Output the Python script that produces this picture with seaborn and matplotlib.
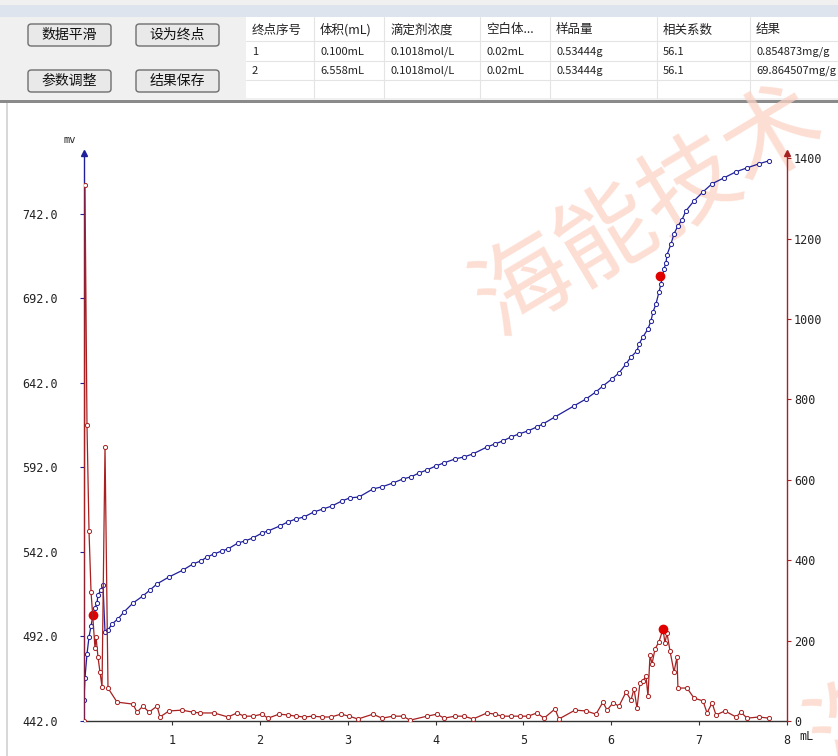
import pandas as pd
import matplotlib.pyplot as plt
import seaborn as sns
from matplotlib.patches import Rectangle, FancyBboxPatch

# ---- dados ----
vol_mv = [0.0, 0.011, 0.034, 0.057, 0.080, 0.102, 0.125, 0.148, 0.159, 0.193, 0.216, 0.239,
          0.273, 0.319, 0.387, 0.455, 0.558, 0.671, 0.751, 0.831, 0.967, 1.127, 1.240, 1.331,
          1.400, 1.479, 1.570, 1.639, 1.752, 1.832, 1.923, 2.026, 2.094, 2.230, 2.321, 2.413,
          2.504, 2.617, 2.720, 2.822, 2.936, 3.027, 3.129, 3.289, 3.391, 3.516, 3.630, 3.721,
          3.812, 3.903, 4.006, 4.097, 4.222, 4.324, 4.427, 4.586, 4.677, 4.768, 4.859, 4.950,
          5.053, 5.155, 5.223, 5.360, 5.576, 5.713, 5.826, 5.906, 6.009, 6.088, 6.168, 6.225,
          6.293, 6.316, 6.361, 6.418, 6.452, 6.475, 6.509, 6.543, 6.566, 6.600, 6.623, 6.634,
          6.680, 6.714, 6.759, 6.805, 6.850, 6.942, 7.044, 7.147, 7.283, 7.420, 7.545, 7.681,
          7.795]
potencial = [454.4, 467.4, 481.6, 491.7, 498.2, 504.7, 508.9, 511.8, 516.6, 519.5, 522.5, 494.7,
             495.8, 499.4, 502.4, 506.5, 511.8, 516.0, 519.5, 523.1, 527.2, 531.3, 534.9, 536.7,
             539.0, 540.8, 542.6, 543.8, 547.3, 548.5, 550.3, 553.2, 554.4, 557.4, 559.8, 561.5,
             562.7, 565.7, 567.4, 569.2, 572.2, 574.0, 574.5, 579.3, 580.5, 582.8, 585.2, 586.4,
             588.7, 590.5, 592.9, 594.7, 597.0, 598.2, 600.0, 604.1, 605.9, 607.7, 610.0, 611.8,
             613.6, 616.0, 617.7, 621.9, 628.4, 632.5, 636.7, 640.2, 644.4, 647.9, 653.2, 657.4,
             660.9, 665.1, 669.2, 674.0, 678.7, 684.0, 688.7, 695.8, 700.6, 709.5, 713.0, 717.7,
             724.2, 730.2, 734.9, 738.5, 743.8, 749.7, 755.0, 759.8, 763.3, 766.9, 769.2, 771.6,
             773.4]

vol_der = [0.0, 0.011, 0.034, 0.057, 0.080, 0.125, 0.137, 0.159, 0.182, 0.205, 0.239, 0.273,
           0.376, 0.558, 0.603, 0.671, 0.740, 0.831, 0.865, 0.967, 1.115, 1.240, 1.320, 1.479,
           1.639, 1.741, 1.821, 1.923, 2.026, 2.094, 2.219, 2.321, 2.413, 2.504, 2.606, 2.708,
           2.811, 2.925, 3.016, 3.118, 3.289, 3.391, 3.516, 3.630, 3.710, 3.903, 4.017, 4.097,
           4.222, 4.324, 4.427, 4.586, 4.677, 4.757, 4.859, 4.962, 5.053, 5.155, 5.235, 5.360,
           5.405, 5.587, 5.713, 5.826, 5.906, 5.952, 6.020, 6.088, 6.168, 6.225, 6.259, 6.293,
           6.327, 6.361, 6.395, 6.418, 6.441, 6.464, 6.498, 6.543, 6.589, 6.611, 6.634, 6.669,
           6.714, 6.748, 6.759, 6.862, 6.942, 7.044, 7.090, 7.147, 7.192, 7.294, 7.420, 7.476,
           7.545, 7.681, 7.795]
derivada = [0, 1333, 736, 473, 321, 182, 209, 159, 122, 85, 682, 82,
            47, 42, 22, 37, 22, 37, 10, 25, 27, 22, 20, 20,
            10, 20, 12, 12, 17, 7, 17, 15, 12, 10, 12, 10,
            10, 17, 12, 5, 17, 7, 12, 12, 2, 12, 17, 7,
            12, 12, 5, 20, 17, 12, 12, 12, 12, 20, 7, 30,
            5, 27, 25, 17, 47, 27, 45, 37, 72, 52, 80, 32,
            95, 100, 112, 62, 164, 142, 179, 197, 229, 194, 219, 174,
            122, 159, 82, 82, 57, 50, 20, 45, 15, 25, 10, 22,
            7, 10, 7]

# pontos finais (volume, mV, derivada)
ep_vol = [0.100, 6.558]
ep_mv = [505.0, 705.0]
ep_der_vol = [6.589]
ep_der = [229]

cabecalho = ['终点序号', '体积(mL)', '滴定剂浓度', '空白体...', '样品量', '相关系数', '结果']
linha1 = ['1', '0.100mL', '0.1018mol/L', '0.02mL', '0.53444g', '56.1', '0.854873mg/g']
linha2 = ['2', '6.558mL', '0.1018mol/L', '0.02mL', '0.53444g', '56.1', '69.864507mg/g']
botoes = ['数据平滑', '设为终点', '参数调整', '结果保存']

W, H = 838, 756
AZUL = '#1f1f9c'
VERMELHO = '#a82020'


def px(x, y):
    return x / W, 1 - y / H


sns.set_style('white')
plt.rcParams['font.family'] = ['Noto Sans CJK SC', 'DejaVu Sans']

fig = plt.figure(figsize=(W / 100, H / 100), dpi=100)
fig.patch.set_facecolor('white')

# ---- painel superior ----
fig.patches.append(Rectangle(px(0, 100), 1, 100 / H, transform=fig.transFigure,
                             facecolor='#f0f0f0', edgecolor='none', zorder=-5))
fig.patches.append(Rectangle(px(0, 17), 1, 12 / H, transform=fig.transFigure,
                             facecolor='#dde4ee', edgecolor='none', zorder=-4))
fig.patches.append(Rectangle(px(0, 103), 1, 3 / H, transform=fig.transFigure,
                             facecolor='#8a8a8a', edgecolor='none', zorder=-4))
fig.patches.append(Rectangle(px(6, 756), 2 / W, 653 / H, transform=fig.transFigure,
                             facecolor='#d8d8d8', edgecolor='none', zorder=-4))
fig.patches.append(Rectangle(px(246, 98), (W - 246) / W, 81 / H, transform=fig.transFigure,
                             facecolor='white', edgecolor='none', zorder=-4))

col_x = [246, 314, 384, 480, 550, 657, 750]
for cx in col_x[1:]:
    fig.add_artist(plt.Line2D([cx / W, cx / W], [1 - 17 / H, 1 - 98 / H],
                              color='#e4e4e4', lw=0.8, zorder=-3))
for ry in [41, 61, 80]:
    fig.add_artist(plt.Line2D([246 / W, 1], [1 - ry / H, 1 - ry / H],
                              color='#e4e4e4', lw=0.8, zorder=-3))

for linha, ty in [(cabecalho, 30), (linha1, 52), (linha2, 71)]:
    for cx, txt in zip(col_x, linha):
        tam = 9 if ty == 30 else 8
        fig.text(*px(cx + 6, ty), txt, fontsize=tam, va='center', ha='left', color='#222222')

botao_pos = [(28, 24), (136, 24), (28, 70), (136, 70)]
for (bx, by), nome in zip(botao_pos, botoes):
    fig.patches.append(FancyBboxPatch(px(bx, by + 22), 83 / W, 22 / H,
                                      boxstyle='round,pad=0,rounding_size=0.004',
                                      transform=fig.transFigure, facecolor='#e9e9e9',
                                      edgecolor='#6e6e6e', lw=1.0, zorder=-2))
    fig.text(*px(bx + 41.5, by + 11), nome, fontsize=10, ha='center', va='center', color='#111111')

# ---- marca d'água ----
fig.text(*px(650, 212), '海能技术', fontsize=70, rotation=31, color='#fbd3c5', alpha=0.75,
         ha='center', va='center', zorder=-1)
fig.text(*px(985, 650), '海能技术', fontsize=70, rotation=31, color='#fbd3c5', alpha=0.75,
         ha='center', va='center', zorder=-1)

# ---- gráfico ----
ax = fig.add_axes([84 / W, 1 - 721 / H, (787 - 84) / W, (721 - 153) / H])
ax.set_facecolor('none')
ax2 = ax.twinx()

df_mv = pd.DataFrame({'vol': vol_mv, 'mv': potencial})
df_der = pd.DataFrame({'vol': vol_der, 'der': derivada})

sns.lineplot(data=df_mv, x='vol', y='mv', ax=ax, color=AZUL, lw=0.9, sort=False, estimator=None,
             marker='o', markersize=3.0, markerfacecolor='white', markeredgecolor=AZUL,
             markeredgewidth=0.7)
sns.lineplot(data=df_der, x='vol', y='der', ax=ax2, color=VERMELHO, lw=0.9, sort=False,
             estimator=None, marker='o', markersize=3.0, markerfacecolor='white',
             markeredgecolor=VERMELHO, markeredgewidth=0.7)
ax.plot(ep_vol, ep_mv, 'o', color='#e00000', markersize=6, zorder=5)
ax2.plot(ep_der_vol, ep_der, 'o', color='#e00000', markersize=6, zorder=5)

ax.set_xlim(0, 8)
ax.set_ylim(442, 778)
ax2.set_ylim(0, 1413)

ax.set_xticks(range(1, 9))
ax.set_xticklabels([str(i) for i in range(1, 9)])
ax.set_yticks([442, 492, 542, 592, 642, 692, 742])
ax.set_yticklabels([f'{v:.1f}' for v in [442, 492, 542, 592, 642, 692, 742]])
ax2.set_yticks(range(0, 1401, 200))

for a in (ax, ax2):
    a.set_xlabel('')
    a.set_ylabel('')
    a.spines['top'].set_visible(False)
    a.grid(False)

ax.spines['left'].set_color(AZUL)
ax.spines['bottom'].set_color('#333333')
ax.spines['right'].set_visible(False)
ax2.spines['left'].set_visible(False)
ax2.spines['bottom'].set_visible(False)
ax2.spines['right'].set_color(VERMELHO)
for s in ('left', 'bottom'):
    ax.spines[s].set_linewidth(1.0)
ax2.spines['right'].set_linewidth(1.0)

ax.tick_params(axis='y', direction='out', length=3, width=0.8, color=AZUL, pad=16,
               labelsize=8.5, labelcolor='#222222', left=True)
ax.tick_params(axis='x', direction='out', length=3, width=0.8, color='#333333', pad=6,
               labelsize=8.5, labelcolor='#222222', bottom=True)
ax2.tick_params(axis='y', direction='out', length=3, width=0.8, color=VERMELHO, pad=2,
                labelsize=8.5, labelcolor='#222222', right=True)
for lab in ax.get_xticklabels() + ax.get_yticklabels() + ax2.get_yticklabels():
    lab.set_family('DejaVu Sans Mono')

# setas no topo dos eixos
ax.plot(0, 1, '^', transform=ax.transAxes, clip_on=False, color=AZUL, markersize=5, zorder=6)
ax2.plot(1, 1, '^', transform=ax2.transAxes, clip_on=False, color=VERMELHO, markersize=5, zorder=6)

fig.text(*px(70, 140), 'mv', fontsize=7.5, family='DejaVu Sans Mono', ha='center', va='center')
fig.text(*px(806, 737), 'mL', fontsize=8.5, family='DejaVu Sans Mono', ha='center', va='center')

plt.savefig('out.png', dpi=100)
